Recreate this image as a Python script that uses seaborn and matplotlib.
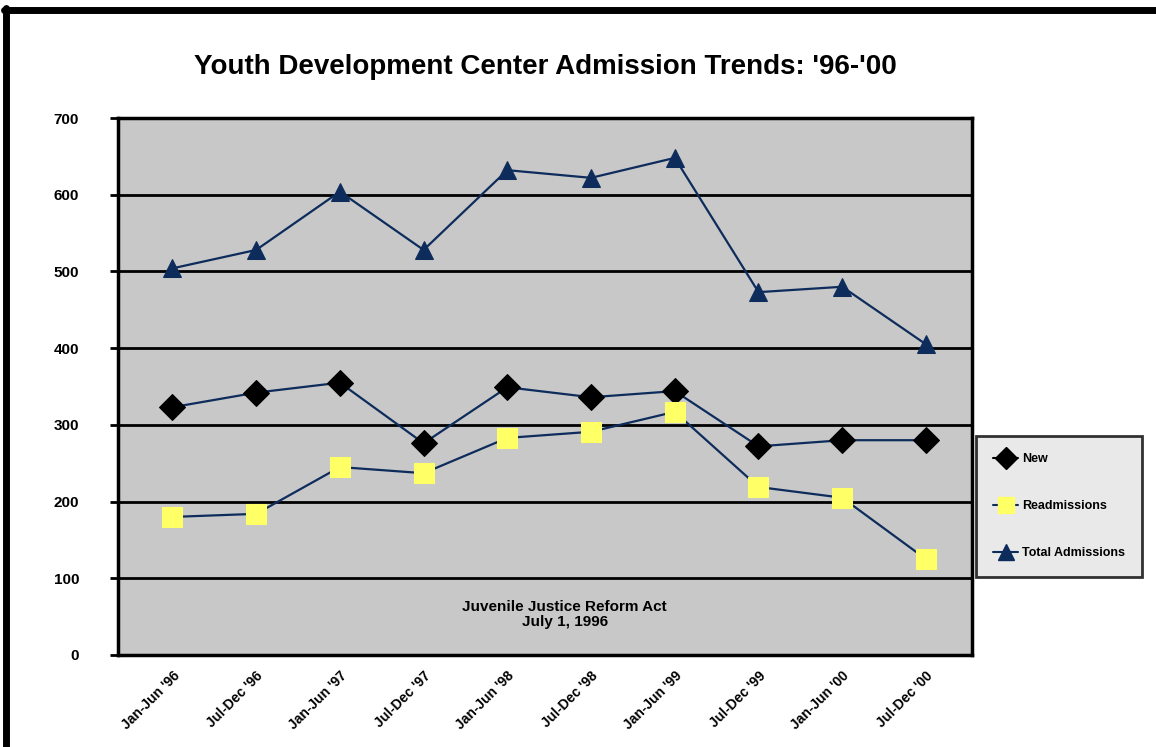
import numpy as np
import pandas as pd
import matplotlib.pyplot as plt
import seaborn as sns
from matplotlib.lines import Line2D

sns.set_style("white")
plt.rcParams['font.family'] = ['Liberation Sans Narrow', 'Liberation Sans', 'DejaVu Sans']
plt.rcParams['font.weight'] = 'bold'
plt.rcParams['text.color'] = 'black'
plt.rcParams['xtick.color'] = 'black'
plt.rcParams['ytick.color'] = 'black'

# data
periods = ["Jan-Jun '96", "Jul-Dec '96", "Jan-Jun '97", "Jul-Dec '97", "Jan-Jun '98",
           "Jul-Dec '98", "Jan-Jun '99", "Jul-Dec '99", "Jan-Jun '00", "Jul-Dec '00"]
new_adm = [323, 342, 355, 276, 349, 336, 344, 272, 280, 280]
readmissions = [180, 184, 245, 237, 283, 291, 317, 219, 205, 125]
total_adm = [504, 528, 604, 528, 632, 622, 648, 473, 480, 405]
y_ticks = [0, 100, 200, 300, 400, 500, 600, 700]

series_names = ["New", "Readmissions", "Total Admissions"]
df = pd.DataFrame({"period": periods * 3,
                   "x": list(range(len(periods))) * 3,
                   "value": new_adm + readmissions + total_adm,
                   "series": [s for s in series_names for _ in periods]})

line_col = '#0d2c5c'
fig = plt.figure(figsize=(11.56, 7.47), dpi=100)
ax = fig.add_axes([118 / 1156, 1 - 655 / 747, 854 / 1156, 537 / 747])
ax.set_facecolor('#c8c8c8')

styles = {
    "New": dict(marker='D', markersize=13, markerfacecolor='black', markeredgecolor='black'),
    "Readmissions": dict(marker='s', markersize=15, markerfacecolor='#ffff66', markeredgecolor='#ffff66'),
    "Total Admissions": dict(marker='^', markersize=13, markerfacecolor=line_col, markeredgecolor=line_col),
}
for name in series_names:
    sub = df[df.series == name]
    sns.lineplot(data=sub, x='x', y='value', ax=ax, color=line_col, linewidth=1.6,
                 legend=False, zorder=3, **styles[name])

ax.set_xlim(-0.65, len(periods) - 0.45)
ax.set_ylim(0, 700)
ax.set_yticks(y_ticks)
ax.set_yticklabels([str(v) for v in y_ticks], fontsize=11, fontweight='bold')
ax.set_xticks(range(len(periods)))
ax.set_xticklabels(periods, rotation=45, ha='right', rotation_mode='anchor',
                   fontsize=10, fontweight='bold')
ax.set_xlabel('')
ax.set_ylabel('')
for v in y_ticks[1:-1]:
    ax.axhline(v, color='black', linewidth=2, zorder=1)
for sp in ax.spines.values():
    sp.set_visible(True)
    sp.set_color('black')
    sp.set_linewidth(2.5)
ax.tick_params(axis='y', length=6, width=2, color='black', pad=22, left=True)
ax.tick_params(axis='x', length=0, pad=10)

ax.text(0.523, 0.075, "Juvenile Justice Reform Act\nJuly 1, 1996", transform=ax.transAxes,
        ha='center', va='center', fontsize=11, fontweight='bold', linespacing=1.1)

fig.text(545 / 1156, 1 - 67 / 747, "Youth Development Center Admission Trends: '96-'00",
         ha='center', va='center', fontsize=20, fontweight='bold')

handles = [Line2D([0], [0], color=line_col if n != "New" else 'black', linewidth=1.5,
                  **styles[n]) for n in series_names]
for h in handles:
    h.set_markersize(11)
leg = fig.legend(handles, series_names, loc='center', bbox_to_anchor=(1059 / 1156, 1 - 506 / 747),
                 fontsize=9, frameon=True, fancybox=False, edgecolor='black',
                 facecolor='#e4e4e4', handlelength=2.0, labelspacing=2.8, borderpad=1.4,
                 handletextpad=0.3, borderaxespad=0)
leg.get_frame().set_linewidth(2)
for t in leg.get_texts():
    t.set_fontweight('bold')

# outer frame (left and top edges)
fig.add_artist(Line2D([6 / 1156, 6 / 1156], [0, 1 - 8 / 747], color='black', linewidth=5,
                      transform=fig.transFigure))
fig.add_artist(Line2D([4 / 1156, 1], [1 - 10 / 747, 1 - 10 / 747], color='black', linewidth=5,
                      transform=fig.transFigure))

fig.savefig('out.png', dpi=100, facecolor='white')
